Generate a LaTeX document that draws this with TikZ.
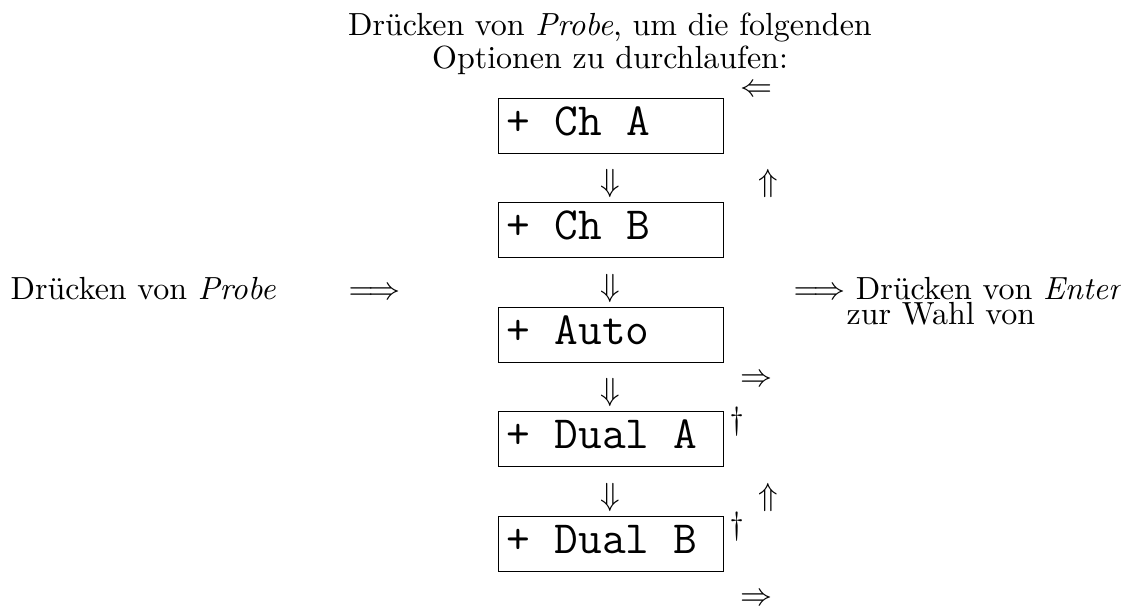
\documentclass[tikz,border=0pt]{standalone}
\newcommand{\monospaced}{\Large\ttfamily}
\newcommand{\fixttspace}{\spaceskip=0.525em plus 0pt minus 0pt\xspaceskip=0.525em plus 0pt minus 0pt\relax}
\begin{document}
\begin{tikzpicture}[x=0.3125pt,y=-0.3125pt,
  lbl/.style={inner sep=0pt, anchor=base west, font=\normalsize},
  sym/.style={inner sep=0pt, anchor=base, font=\normalsize},
  optbox/.style={draw, line width=0.45pt, rectangle, anchor=north west,
    inner xsep=2.5pt, inner ysep=0pt, text width=65.3pt, align=flush left,
    text height=11.56pt, text depth=5.63pt, font=\monospaced,
    execute at begin node=\fixttspace}]
\useasboundingbox (0,0) rectangle (1121,606);
% title
\node[sym] (t1) at (610,35) {Drücken von \emph{Probe}, um die folgenden};
\node[sym] (t2) at (610,68) {Optionen zu durchlaufen:};
% boxes
\node[optbox] (ba) at (498,98) {+ Ch A};
\node[optbox] (bb) at (498,202) {+ Ch B};
\node[optbox] (bc) at (498,307) {+ Auto};
\node[optbox] (bd) at (498,411) {+ Dual A};
\node[optbox] (be) at (498,516) {+ Dual B};
% down arrows
\node[sym] (d1) at (610,191) {$\Downarrow$};
\node[sym] (d2) at (610,296) {$\Downarrow$};
\node[sym] (d3) at (610,400) {$\Downarrow$};
\node[sym] (d4) at (610,505) {$\Downarrow$};
% right column symbols
\node[sym] (l1) at (756,96) {$\Leftarrow$};
\node[sym] (u1) at (768,191) {$\Uparrow$};
\node[sym] (r1) at (756,386) {$\Rightarrow$};
\node[lbl] (g1) at (729,429) {\dag};
\node[sym] (u2) at (768,505) {$\Uparrow$};
\node[lbl] (g2) at (729,534) {\dag};
\node[sym] (r2) at (756,605) {$\Rightarrow$};
% left side
\node[lbl] (lt) at (10,299) {Drücken von \emph{Probe}};
\node[lbl] (la) at (348,299) {$\Longrightarrow$};
% right side
\node[lbl] (rt) at (793,299) {$\Longrightarrow$ Drücken von \emph{Enter}};
\node[lbl] (rt2) at (846,324) {zur Wahl von};
\end{tikzpicture}
\end{document}
